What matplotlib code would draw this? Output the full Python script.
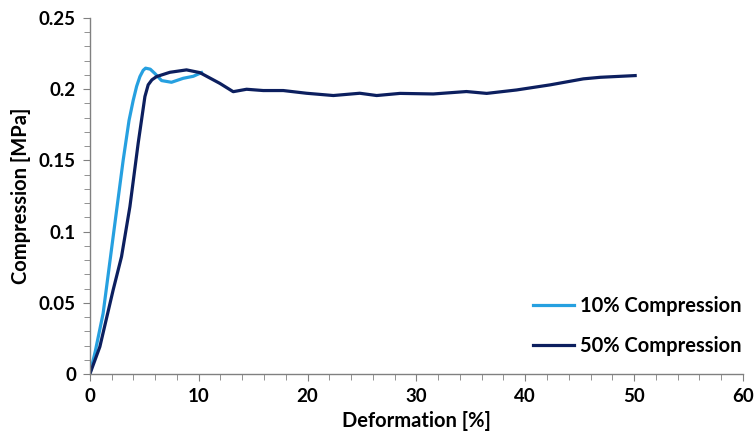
import matplotlib
matplotlib.use("Agg")
import matplotlib.pyplot as plt
from matplotlib.ticker import MultipleLocator

plt.rcParams["font.family"] = ["Lato", "DejaVu Sans"]
plt.rcParams["font.weight"] = "bold"

# 10% compression curve
x10 = [0, 0.5, 1.22, 2.14, 3.06, 3.6, 3.98, 4.3, 4.6, 4.9, 5.12, 5.55, 5.97, 6.59, 7.5,
       8.58, 9.5, 10.26]
y10 = [0, 0.016, 0.0426, 0.0964, 0.150, 0.178, 0.192, 0.202, 0.2088, 0.2132, 0.2147,
       0.2140, 0.211, 0.206, 0.2048, 0.2076, 0.209, 0.2116]

# 50% compression curve
x50 = [0, 0.92, 2.14, 2.91, 3.68, 4.44, 5.06, 5.36, 5.7, 6.13, 7.35, 8.88, 10.1, 11.95,
       13.17, 14.4, 15.93, 17.77, 19.9, 22.37, 24.8, 26.35, 28.5, 31.55, 34.6,
       36.46, 39.2, 42.3, 45.34, 46.9, 50.1]
y50 = [0, 0.0192, 0.059, 0.0824, 0.1175, 0.162, 0.1948, 0.203, 0.2065, 0.2088, 0.2118,
       0.2135, 0.2116, 0.204, 0.1982, 0.1999, 0.1990, 0.199, 0.1971, 0.1955, 0.1971,
       0.1955, 0.197, 0.1966, 0.1983, 0.197, 0.1994, 0.203, 0.2072, 0.2083, 0.2095]

fig = plt.figure(figsize=(7.55, 4.36), dpi=100)
ax = fig.add_axes([0.119, 0.142, 0.865, 0.817])

ax.plot(x10, y10, color="#26a0e0", lw=2.3, label="10% Compression",
        solid_joinstyle="round")
ax.plot(x50, y50, color="#0c1f5f", lw=2.3, label="50% Compression",
        solid_joinstyle="round")

ax.set_xlim(0, 60)
ax.set_ylim(0, 0.25)
ax.xaxis.set_major_locator(MultipleLocator(10))
ax.xaxis.set_minor_locator(MultipleLocator(2))
ax.yaxis.set_minor_locator(MultipleLocator(0.01))
ax.set_yticks([0, 0.05, 0.1, 0.15, 0.2, 0.25])
ax.set_yticklabels(["0", "0.05", "0.1", "0.15", "0.2", "0.25"])

for s in ("top", "right"):
    ax.spines[s].set_visible(False)
for s in ("left", "bottom"):
    ax.spines[s].set_color("#808080")
    ax.spines[s].set_linewidth(1.0)
ax.tick_params(which="both", direction="out", color="#808080", labelsize=13.5,
               pad=5)
ax.tick_params(which="major", length=5)
ax.tick_params(which="minor", length=4)

ax.set_xlabel("Deformation [%]", fontsize=14.5, fontweight="bold", labelpad=4)
ax.set_ylabel("Compression [MPa]", fontsize=14.5, fontweight="bold", labelpad=6)

leg = ax.legend(loc="lower right", bbox_to_anchor=(1.025, 0.0), frameon=False,
                fontsize=14.5, handlelength=2.0, labelspacing=1.0,
                handletextpad=0.3)

fig.savefig("out.png", dpi=100)
